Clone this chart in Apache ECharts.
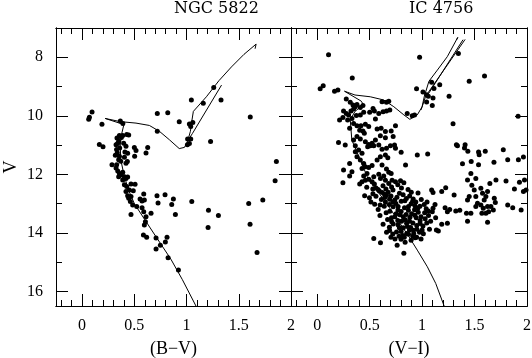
<!DOCTYPE html>
<html>
<head>
<meta charset="utf-8">
<script src="https://cdn.jsdelivr.net/npm/echarts@6/dist/echarts.min.js"></script>
<style>
  html, body { margin: 0; padding: 0; background: #fff; }
  #chart { width: 532px; height: 358px; }
</style>
</head>
<body>
<div id="chart"></div>
<script>
// tick positions
const xMajor = [0, 0.5, 1, 1.5, 2];
const xMinor = [-0.2, -0.1, 0.1, 0.2, 0.3, 0.4, 0.6, 0.7, 0.8, 0.9, 1.1, 1.2, 1.3, 1.4, 1.6, 1.7, 1.8, 1.9];
const yMajor = [8, 10, 12, 14, 16];
const yMinor = [9, 11, 13, 15];

// NGC 5822 : [B-V, V]
const ngcStars = [
  [0.095, 9.87], [0.07, 10.05], [0.063, 10.12], [0.19, 10.29], [0.366, 10.18], [0.39, 10.26],
  [0.72, 9.92], [0.82, 9.9], [0.93, 10.2], [0.72, 10.53], [1.046, 9.46], [1.16, 9.57],
  [1.26, 9.03], [1.33, 9.46], [1.61, 10.04], [1.23, 10.88], [1.86, 11.56],
  [1.027, 10.28], [1.04, 10.37], [1.06, 10.23], [1.01, 10.79], [1.04, 10.79], [1.027, 10.95], [1.008, 10.99],
  [0.165, 10.98], [0.2, 11.06],
  [0.357, 10.67], [0.389, 10.67], [0.427, 10.64], [0.446, 10.66], [0.334, 10.76], [0.376, 10.74],
  [0.35, 10.87], [0.325, 10.99], [0.398, 10.94], [0.42, 11.04], [0.41, 11.24], [0.436, 11.28],
  [0.337, 11.26], [0.318, 11.35], [0.357, 11.38], [0.405, 11.42], [0.5, 11.08], [0.516, 11.19],
  [0.503, 11.38], [0.628, 11.08], [0.612, 11.27], [0.286, 11.67], [0.331, 11.67], [0.42, 11.62],
  [0.325, 11.78], [0.433, 11.56], [0.34, 10.95], [0.36, 11.1], [0.33, 11.15], [0.35, 11.5], [0.37, 11.55],
  [0.341, 11.89], [0.357, 11.97], [0.373, 12.02], [0.389, 11.93], [0.405, 12.08], [0.42, 12.14],
  [0.436, 12.09], [0.35, 12.08], [0.389, 12.19], [0.405, 12.36], [0.468, 12.33], [0.507, 12.34],
  [0.427, 12.42], [0.452, 12.54], [0.49, 12.56], [0.42, 12.59], [0.436, 12.73], [0.468, 12.76],
  [0.446, 12.82], [0.462, 12.93], [0.484, 13.05], [0.523, 13.1], [0.468, 13.37], [0.555, 12.84],
  [0.574, 12.91], [0.596, 12.88], [0.59, 12.67], [0.574, 13.14], [0.59, 13.28], [0.612, 13.45],
  [0.606, 13.62], [0.596, 13.73], [0.66, 13.33], [0.717, 12.73], [0.794, 12.7], [0.874, 12.84],
  [0.727, 12.98], [0.858, 13.03], [0.893, 13.37], [1.05, 12.93], [1.21, 13.23], [1.305, 13.41],
  [1.206, 13.82], [1.595, 13.0], [1.73, 12.88], [1.608, 13.71], [1.675, 14.67], [1.848, 12.22],
  [0.587, 14.07], [0.618, 14.15], [0.708, 14.18], [0.813, 14.15], [0.797, 14.31], [0.749, 14.42],
  [0.708, 14.55], [0.823, 14.85], [0.922, 15.27]
];
const ngcIsoMain = [
  [1.09, 16.5], [0.96, 15.6], [0.85, 14.9], [0.72, 14.2], [0.6, 13.55], [0.5, 13.0], [0.44, 12.5],
  [0.4, 12.0], [0.37, 11.5], [0.365, 11.0], [0.38, 10.6], [0.4, 10.3], [0.22, 10.09], [0.366, 10.2],
  [0.516, 10.25], [0.644, 10.33], [0.74, 10.53], [0.836, 10.82], [0.93, 11.12], [0.98, 11.08],
  [1.01, 10.87], [1.037, 10.53], [1.05, 10.19], [1.065, 9.85], [1.19, 9.35], [1.31, 8.8],
  [1.43, 8.33], [1.55, 7.9], [1.666, 7.55], [1.656, 7.71]
];
const ngcIsoBranch = [[1.03, 10.75], [1.057, 10.6], [1.335, 8.95]];

// IC 4756 : [V-I, V]
const icStars = [
  [0.108, 7.91], [0.334, 8.71], [0.028, 9.08], [0.057, 8.97], [0.165, 9.16], [0.197, 9.12],
  [0.277, 9.43], [0.315, 9.54], [0.341, 9.63], [0.363, 9.69], [0.379, 9.61], [0.411, 9.72],
  [0.436, 9.65], [0.347, 9.77], [0.322, 9.84], [0.251, 9.84], [0.277, 9.92], [0.299, 9.97],
  [0.245, 10.06], [0.213, 10.14], [0.29, 10.14], [0.331, 10.09], [0.373, 9.99], [0.411, 9.97],
  [0.443, 9.88], [0.5, 9.88], [0.532, 9.75], [0.545, 9.84], [0.618, 9.52], [0.66, 9.54],
  [0.682, 9.5], [0.587, 9.92], [0.628, 9.86], [0.66, 9.84], [0.692, 9.8], [0.555, 10.11],
  [0.347, 10.26], [0.379, 10.34], [0.417, 10.34], [0.459, 10.29], [0.491, 10.37], [0.309, 10.43],
  [0.405, 10.49], [0.436, 10.52], [0.449, 10.6], [0.571, 10.45], [0.609, 10.43], [0.65, 10.54],
  [0.705, 10.52], [0.746, 10.34], [0.602, 10.68], [0.65, 10.75], [0.724, 10.71], [0.379, 10.71],
  [0.347, 10.83], [0.411, 10.79], [0.459, 10.89], [0.491, 10.98], [0.523, 10.94], [0.539, 11.02],
  [0.507, 11.02], [0.481, 11.06], [0.555, 10.83], [0.587, 11.0], [0.618, 11.14], [0.66, 11.11],
  [0.698, 11.02], [0.746, 11.11], [0.737, 11.0], [0.203, 10.91], [0.267, 11.0], [0.363, 11.02],
  [0.363, 11.23], [0.395, 11.17], [0.427, 11.28], [0.379, 11.4], [0.411, 11.51], [0.443, 11.63],
  [0.459, 11.74], [0.427, 11.8], [0.491, 11.77], [0.523, 11.7], [0.571, 11.51], [0.602, 11.4],
  [0.65, 11.34], [0.673, 11.43], [0.618, 11.68], [0.66, 11.82], [0.682, 11.93], [0.705, 11.97],
  [0.8, 11.25], [0.842, 11.68], [0.954, 11.34], [0.309, 11.63], [0.251, 11.85], [0.331, 11.91],
  [0.475, 11.97], [0.587, 12.0], [0.858, 9.92], [0.906, 10.0], [0.928, 9.97],
  [0.976, 8.0], [1.346, 7.87], [1.449, 8.82], [1.595, 8.64], [0.947, 9.08], [1.008, 9.19],
  [1.043, 9.28], [1.059, 9.33], [1.091, 8.85], [1.113, 9.07], [1.168, 8.94], [1.104, 9.39],
  [1.043, 9.53], [1.097, 9.65], [1.257, 9.33], [1.295, 10.27], [1.915, 10.02], [1.327, 10.99],
  [1.337, 11.02], [1.41, 10.99], [1.404, 11.1], [1.436, 11.21], [1.538, 11.24], [1.544, 11.33],
  [1.602, 11.21], [1.774, 11.16], [1.053, 11.31], [1.385, 11.64], [1.468, 11.56], [1.538, 11.67],
  [1.685, 11.59], [1.816, 11.5], [1.918, 11.5], [1.966, 11.41],
  [0.309, 12.06], [0.443, 12.06], [0.539, 12.08], [0.634, 12.06], [0.245, 12.29], [0.405, 12.33],
  [0.427, 12.25], [0.459, 12.2], [0.491, 12.17], [0.523, 12.25], [0.545, 12.33], [0.603, 12.14],
  [0.65, 12.2], [0.714, 12.2], [0.746, 12.25], [0.794, 12.22], [0.826, 12.29], [0.682, 12.31],
  [0.472, 12.44], [0.561, 12.47], [0.627, 12.39], [0.655, 12.5], [0.709, 12.43], [0.768, 12.36],
  [0.803, 12.47], [0.866, 12.52], [0.897, 12.61], [0.961, 12.64],
  [0.452, 12.73], [0.498, 12.8], [0.531, 12.66], [0.592, 12.57], [0.641, 12.68], [0.676, 12.61],
  [0.722, 12.54], [0.784, 12.65], [0.819, 12.7], [0.881, 12.74], [0.915, 12.84], [0.992, 12.86], [1.047, 12.95],
  [0.512, 12.95], [0.548, 13.02], [0.611, 12.86], [0.644, 12.79], [0.703, 12.74], [0.739, 12.88],
  [0.801, 12.92], [0.836, 12.9], [0.895, 13.01], [0.931, 13.07], [0.979, 13.09], [1.039, 13.18],
  [0.581, 13.2], [0.639, 13.09], [0.688, 13.03], [0.724, 13.11], [0.771, 13.1], [0.832, 13.14],
  [0.869, 13.23], [0.928, 13.21], [0.963, 13.3], [1.024, 13.31], [1.061, 13.41],
  [0.598, 13.41], [0.657, 13.31], [0.692, 13.26], [0.752, 13.35], [0.788, 13.38], [0.848, 13.37],
  [0.884, 13.47], [0.944, 13.48], [0.981, 13.58], [1.029, 13.52],
  [0.671, 13.54], [0.708, 13.48], [0.768, 13.58], [0.804, 13.6], [0.852, 13.67], [0.912, 13.66],
  [0.949, 13.75], [1.008, 13.77], [1.044, 13.66],
  [0.628, 13.71], [0.688, 13.81], [0.724, 13.7], [0.783, 13.83], [0.821, 13.83], [0.879, 13.9],
  [0.917, 13.91], [0.975, 13.98], [1.012, 14.03], [1.07, 13.88],
  [0.661, 13.98], [0.72, 14.04], [0.756, 13.97], [0.816, 14.09], [0.853, 14.02], [0.911, 14.12], [0.948, 14.15],
  [0.703, 14.15], [0.741, 14.21], [0.799, 14.22], [0.838, 14.32], [0.895, 14.25], [0.933, 14.17], [0.99, 14.21],
  [0.58, 12.52], [0.62, 12.62], [0.66, 12.72], [0.69, 12.85], [0.72, 12.95], [0.75, 13.0],
  [0.77, 13.22], [0.8, 13.27], [0.82, 13.45], [0.84, 13.55], [0.86, 13.78], [0.88, 13.6],
  [0.9, 13.35], [0.93, 13.4], [0.96, 13.15], [0.99, 13.45], [0.74, 13.45], [0.71, 13.62],
  [0.77, 13.72], [0.8, 13.95], [0.83, 14.15], [0.87, 14.05], [0.89, 13.82], [0.95, 13.88],
  [1.0, 13.9], [0.65, 12.95], [0.6, 13.05], [0.56, 12.75], [0.53, 12.5], [0.76, 12.78],
  [0.85, 12.83], [0.87, 13.1], [0.91, 12.92], [0.94, 12.95], [1.02, 13.03], [1.06, 13.25],
  [0.98, 13.68], [0.92, 14.02], [0.78, 14.12], [0.69, 13.92],
  [0.539, 14.19], [0.603, 14.34], [0.762, 14.42], [0.826, 14.7],
  [1.091, 12.54], [1.104, 12.62], [1.225, 12.46], [1.187, 12.59], [1.305, 12.71], [1.123, 13.03],
  [1.104, 13.16], [1.097, 13.28], [1.129, 13.48], [1.081, 13.6], [1.187, 13.71], [1.241, 13.67],
  [1.136, 13.9], [1.155, 13.94], [1.219, 13.14], [1.241, 13.28], [1.263, 13.2], [1.321, 13.25],
  [1.359, 13.23], [1.423, 13.33],
  [1.465, 11.97], [1.433, 12.19], [1.512, 12.14], [1.474, 12.37], [1.497, 12.54], [1.449, 12.76],
  [1.433, 12.88], [1.512, 12.76], [1.56, 12.48], [1.576, 12.65], [1.608, 12.76], [1.592, 12.88],
  [1.624, 13.1], [1.528, 12.99], [1.56, 13.05], [1.583, 13.16], [1.608, 13.33], [1.634, 13.28],
  [1.656, 13.1], [1.688, 12.82], [1.698, 12.96], [1.679, 13.22], [1.704, 12.19], [1.624, 12.59],
  [1.646, 12.31], [1.57, 13.33], [1.465, 13.33], [1.433, 13.6], [1.512, 13.1], [1.624, 13.64],
  [1.8, 12.23], [1.816, 13.05], [1.864, 13.14], [1.88, 12.5], [1.944, 13.22], [1.928, 12.27],
  [1.976, 12.19], [1.991, 12.54], [1.966, 12.59]
];
const icIsoMain = [
  [1.21, 16.5], [1.13, 15.73], [1.05, 15.16], [0.954, 14.59], [0.874, 14.13], [0.7, 13.2],
  [0.56, 12.5], [0.49, 12.2], [0.41, 11.5], [0.33, 10.83], [0.315, 10.14], [0.36, 9.85],
  [0.44, 9.62], [0.42, 9.5], [0.26, 9.16], [0.36, 9.29], [0.506, 9.35], [0.634, 9.46],
  [0.73, 9.69], [0.826, 9.97], [0.883, 10.12], [0.954, 9.97], [1.0, 9.69], [1.02, 9.35],
  [1.065, 8.82], [1.145, 8.44], [1.24, 7.98], [1.34, 7.32], [1.33, 7.4]
];
const icIsoBranchA = [[0.99, 9.8], [1.034, 9.33], [1.41, 7.39]];
const icIsoBranchB = [[1.06, 9.25], [1.39, 7.4]];

const FONT = "Liberation Serif";
const TITLE_FONT = "DejaVu Serif";
const BLACK = "#000";

const chart = echarts.init(document.getElementById("chart"), null, { renderer: "canvas" });

// 两个面板, 不让 v6 自动收缩网格
const gridBox = [
  { left: 56, top: 28, width: 235, height: 278, outerBoundsMode: "none", containLabel: false },
  { left: 291, top: 28, width: 236, height: 278, outerBoundsMode: "none", containLabel: false }
];

/** 一组坐标轴 (主刻度 / 次刻度) */
const makeAxis = (dim, gridIndex, position, ticks, len, withLabels) => {
  const isX = dim === "x";
  return {
    type: "value",
    gridIndex: gridIndex,
    position: position,
    min: isX ? -0.25 : 7,
    max: isX ? 2 : 16.5,
    inverse: !isX,
    axisLine: { show: true, onZero: false, lineStyle: { color: BLACK, width: 1 } },
    axisTick: { show: true, inside: true, length: len, customValues: ticks, lineStyle: { color: BLACK, width: 1 } },
    axisLabel: withLabels
      ? { show: true, customValues: ticks, margin: isX ? 12 : 13, color: BLACK, fontFamily: FONT, fontSize: 16,
          showMinLabel: true, showMaxLabel: true }
      : { show: false },
    splitLine: { show: false }
  };
};

const xAxes = [];
const yAxes = [];
[0, 1].forEach((g) => {
  xAxes.push(makeAxis("x", g, "bottom", xMajor, 12, true));
  xAxes.push(makeAxis("x", g, "bottom", xMinor, 6, false));
  xAxes.push(makeAxis("x", g, "top", xMajor, 12, false));
  xAxes.push(makeAxis("x", g, "top", xMinor, 6, false));
  yAxes.push(makeAxis("y", g, "left", yMajor, 12, g === 0));
  yAxes.push(makeAxis("y", g, "left", yMinor, 6, false));
  yAxes.push(makeAxis("y", g, "right", yMajor, 12, false));
  yAxes.push(makeAxis("y", g, "right", yMinor, 6, false));
});

// 坐标轴名称
const nameStyle = { color: BLACK, fontFamily: FONT, fontSize: 18 };
Object.assign(xAxes[0], { name: "(B\u2212V)", nameLocation: "middle", nameGap: 34, nameTextStyle: nameStyle });
Object.assign(xAxes[4], { name: "(V\u2212I)", nameLocation: "middle", nameGap: 34, nameTextStyle: nameStyle });
Object.assign(yAxes[0], { name: "V", nameLocation: "middle", nameGap: 36, nameRotate: 90, nameTextStyle: nameStyle });

const lineSeries = (data, xi, yi) => ({
  type: "line", xAxisIndex: xi, yAxisIndex: yi, data: data,
  showSymbol: false, symbol: "none", silent: true, z: 2,
  lineStyle: { color: BLACK, width: 1 }
});
const starSeries = (data, xi, yi) => ({
  type: "scatter", xAxisIndex: xi, yAxisIndex: yi, data: data,
  symbol: "circle", symbolSize: 5, silent: true, z: 3,
  itemStyle: { color: BLACK, opacity: 1 }
});

const option = {
  animation: false,
  backgroundColor: "#fff",
  grid: gridBox,
  xAxis: xAxes,
  yAxis: yAxes,
  graphic: [
    { type: "text", left: 174, top: 1, style: { text: "NGC 5822", fontFamily: TITLE_FONT, fontSize: 16, fill: BLACK, textAlign: "center" } },
    { type: "text", left: 409, top: 1, style: { text: "IC 4756", fontFamily: TITLE_FONT, fontSize: 16, fill: BLACK, textAlign: "center" } }
  ],
  series: [
    lineSeries(ngcIsoMain, 0, 0),
    lineSeries(ngcIsoBranch, 0, 0),
    starSeries(ngcStars, 0, 0),
    lineSeries(icIsoMain, 4, 4),
    lineSeries(icIsoBranchA, 4, 4),
    lineSeries(icIsoBranchB, 4, 4),
    starSeries(icStars, 4, 4)
  ]
};

chart.setOption(option);
</script>
</body>
</html>
